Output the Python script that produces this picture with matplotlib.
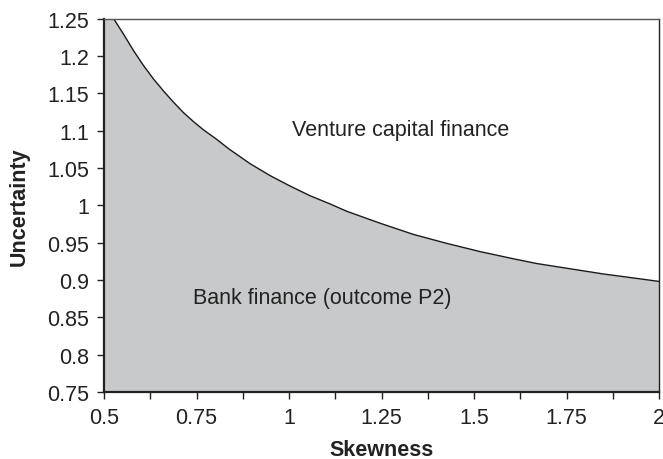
import matplotlib
matplotlib.use("Agg")
import matplotlib.pyplot as plt
from matplotlib.ticker import MultipleLocator, FixedLocator, FixedFormatter

plt.rcParams['font.family'] = ['Liberation Sans', 'DejaVu Sans']

# Boundary between bank finance (below) and venture capital finance (above)
skewness = [0.500, 0.526, 0.553, 0.580, 0.607, 0.634, 0.661, 0.688, 0.715, 0.742,
            0.769, 0.800, 0.839, 0.894, 0.948, 1.002, 1.056, 1.110, 1.156, 1.246,
            1.336, 1.426, 1.516, 1.600, 1.669, 1.759, 1.849, 1.925, 2.000]
uncertainty = [1.250, 1.250, 1.229, 1.207, 1.187, 1.169, 1.153, 1.138, 1.124, 1.112,
               1.101, 1.090, 1.075, 1.056, 1.040, 1.026, 1.013, 1.002, 0.992, 0.976,
               0.961, 0.949, 0.938, 0.929, 0.922, 0.915, 0.908, 0.903, 0.898]

x_tick_vals = [0.5, 0.75, 1.0, 1.25, 1.5, 1.75, 2.0]
x_tick_labels = ["0.5", "0.75", "1", "1.25", "1.5", "1.75", "2"]
y_tick_vals = [0.75, 0.8, 0.85, 0.9, 0.95, 1.0, 1.05, 1.1, 1.15, 1.2, 1.25]
y_tick_labels = ["0.75", "0.8", "0.85", "0.9", "0.95", "1", "1.05", "1.1", "1.15", "1.2", "1.25"]

region_labels = ["Venture capital finance", "Bank finance (outcome P2)"]

FS = 15.5

fig = plt.figure(figsize=(6.63, 4.60), dpi=100)
ax = fig.add_axes([0.157, 0.146, 0.837, 0.811])

ax.fill_between(skewness, 0.75, uncertainty, color="#c8c9cb", linewidth=0)
ax.plot(skewness[1:], uncertainty[1:], color="#1a1a1a", linewidth=1.0)

ax.set_xlim(0.5, 2.0)
ax.set_ylim(0.75, 1.25)

ax.xaxis.set_major_locator(FixedLocator(x_tick_vals))
ax.xaxis.set_major_formatter(FixedFormatter(x_tick_labels))
ax.xaxis.set_minor_locator(MultipleLocator(0.125))
ax.yaxis.set_major_locator(FixedLocator(y_tick_vals))
ax.yaxis.set_major_formatter(FixedFormatter(y_tick_labels))

ax.tick_params(axis='both', which='both', direction='out', length=5, width=1,
               color="#222222", labelsize=FS, labelcolor="#222222", pad=6)
ax.tick_params(axis='x', which='minor', length=5)

for side in ['left', 'bottom']:
    ax.spines[side].set_linewidth(1.6)
    ax.spines[side].set_color("#222222")
ax.spines['top'].set_linewidth(1.0)
ax.spines['top'].set_color("#555555")
ax.spines['right'].set_linewidth(1.0)
ax.spines['right'].set_color("#222222")

ax.set_xlabel("Skewness", fontsize=FS, fontweight='bold', color="#222222", labelpad=8)
ax.set_ylabel("Uncertainty", fontsize=FS, fontweight='bold', color="#222222", labelpad=12)

ax.text(1.007, 1.101, region_labels[0], fontsize=FS, color="#222222", va='center', ha='left')
ax.text(0.739, 0.877, region_labels[1], fontsize=FS, color="#222222", va='center', ha='left')

fig.savefig("out.png", dpi=100)
